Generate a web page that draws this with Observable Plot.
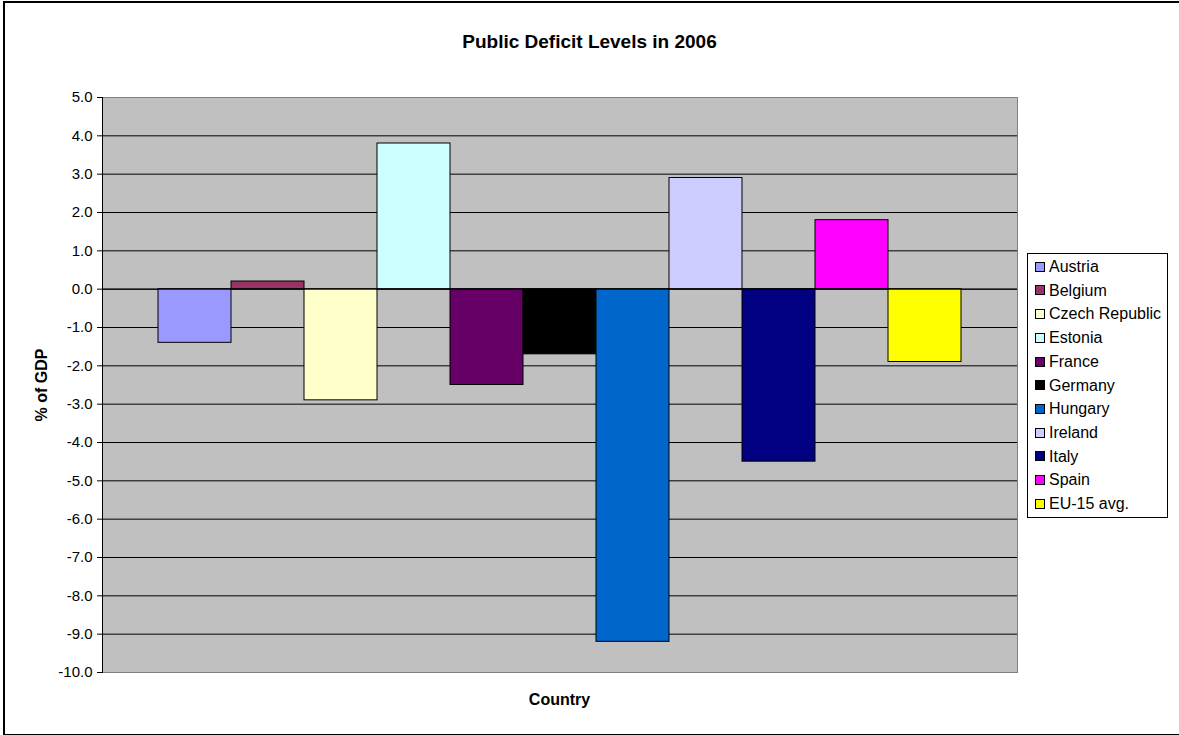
<!DOCTYPE html>
<html>
<head>
<meta charset="utf-8">
<script src="https://cdn.jsdelivr.net/npm/d3@7"></script>
<script src="https://cdn.jsdelivr.net/npm/@observablehq/plot@0.6"></script>
<style>
  html, body { margin: 0; padding: 0; background: #fff; }
  body { width: 1179px; height: 735px; position: relative; overflow: hidden; font-family: Arial, "Liberation Sans", sans-serif; }
  #border { position: absolute; left: 3px; top: 1px; width: 1190px; height: 731px; border: 2px solid #000; box-sizing: content-box; border-right: none; }
  #chart { position: absolute; left: 0; top: 0; }
  #chart svg text { font-size: 15px !important; font-family: Arial, "Liberation Sans", sans-serif; fill: #000; }
  .title { position: absolute; left: 0; width: 1179px; top: 32px; line-height: 20px; text-align: center; font-weight: bold; font-size: 19px; }
  .xlabel { position: absolute; left: 102px; width: 915px; top: 691px; line-height: 18px; text-align: center; font-weight: bold; font-size: 16px; }
  .ylabel { position: absolute; left: 42px; top: 385px; transform: translate(-50%, -50%) rotate(-90deg); font-weight: bold; font-size: 16px; white-space: nowrap; }
  #legend { position: absolute; left: 1027px; top: 253px; width: 139px; height: 263px; border: 1px solid #000; background: #fff; }
  .item { position: absolute; left: 7px; height: 18px; line-height: 18px; font-size: 16px; white-space: nowrap; }
  .sw { display: inline-block; width: 8px; height: 8px; border: 1px solid #000; vertical-align: middle; margin-right: 4px; position: relative; top: -1px; }
</style>
</head>
<body>
<div id="border"></div>
<div id="chart"></div>
<div class="title">Public Deficit Levels in 2006</div>
<div class="ylabel">% of GDP</div>
<div class="xlabel">Country</div>
<div id="legend"></div>
<script>
const countries = ["Austria", "Belgium", "Czech Republic", "Estonia", "France", "Germany", "Hungary", "Ireland", "Italy", "Spain", "EU-15 avg."];
const values = [-1.4, 0.2, -2.9, 3.8, -2.5, -1.7, -9.2, 2.9, -4.5, 1.8, -1.9];
const colors = ["#9999FF", "#993366", "#FFFFCC", "#CCFFFF", "#660066", "#000000", "#0066CC", "#CCCCFF", "#000080", "#FF00FF", "#FFFF00"];
const yTicks = [5, 4, 3, 2, 1, 0, -1, -2, -3, -4, -5, -6, -7, -8, -9, -10];

const data = countries.map((c, i) => ({country: c, value: values[i]}));

const chart = Plot.plot({
  width: 1179,
  height: 735,
  marginLeft: 102,
  marginRight: 162,
  marginTop: 97,
  marginBottom: 63,
  style: {background: "transparent", fontFamily: "Arial, 'Liberation Sans', sans-serif", fontSize: "15px", color: "#000"},
  x: {domain: countries, paddingInner: 0, paddingOuter: 0.75, axis: null},
  y: {domain: [-10, 5], axis: null},
  color: {domain: countries, range: colors},
  marks: [
    Plot.frame({fill: "#C0C0C0", stroke: "none"}),
    Plot.gridY(yTicks, {stroke: "#000", strokeOpacity: 1, strokeWidth: 1}),
    Plot.barY(data, {x: "country", y: "value", fill: "country", stroke: "#000", strokeWidth: 1}),
    Plot.ruleY([0], {stroke: "#000"}),
    Plot.frame({stroke: "#808080", strokeWidth: 1}),
    Plot.frame({anchor: "left", stroke: "#000"}),
    Plot.axisY(yTicks, {tickSize: 5, tickPadding: 5, tickFormat: d => d.toFixed(1), fontSize: 15, label: null, stroke: "#000", fill: "#000"})
  ]
});
document.getElementById("chart").appendChild(chart);

const legend = document.getElementById("legend");
countries.forEach((c, i) => {
  const d = document.createElement("div");
  d.className = "item";
  d.style.top = (4 + i * 23.7) + "px";
  const s = document.createElement("span");
  s.className = "sw";
  s.style.background = colors[i];
  d.appendChild(s);
  d.appendChild(document.createTextNode(c));
  legend.appendChild(d);
});
</script>
</body>
</html>
